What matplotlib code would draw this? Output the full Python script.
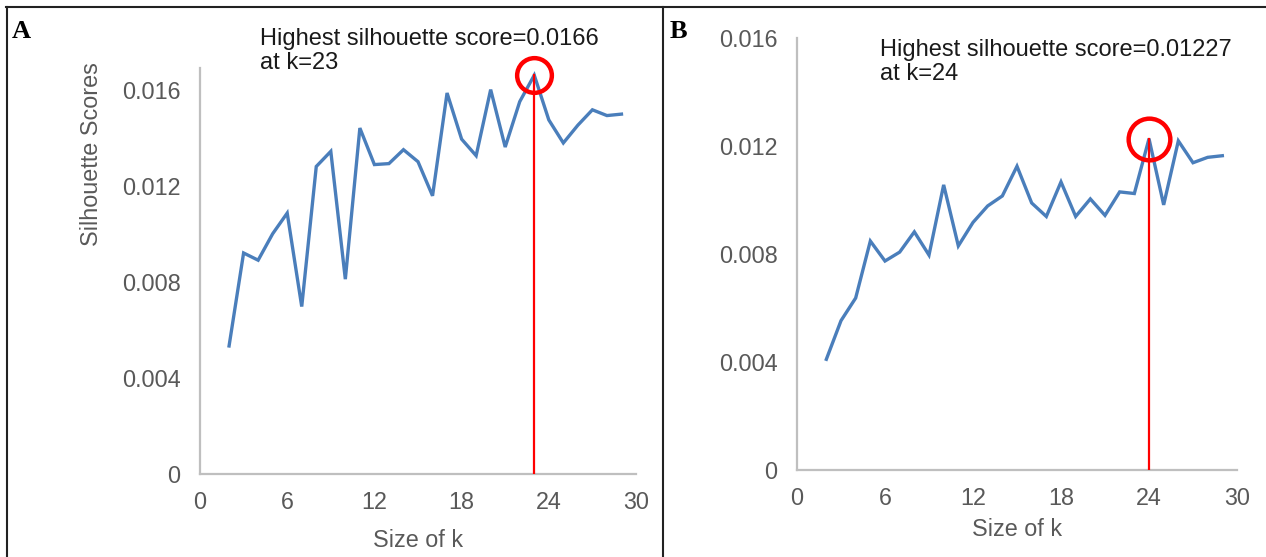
import matplotlib

matplotlib.use("Agg")
import matplotlib.pyplot as plt  # noqa: E402
from matplotlib.lines import Line2D  # noqa: E402

# --- data ------------------------------------------------------------------
k_values = list(range(2, 30))

scores_a = [0.00533, 0.00920, 0.00890, 0.01000, 0.01086, 0.00697, 0.01280,
            0.01343, 0.00811, 0.01440, 0.01288, 0.01292, 0.01350, 0.01300,
            0.01158, 0.01586, 0.01394, 0.01325, 0.01600, 0.01361, 0.01550,
            0.01660, 0.01474, 0.01378, 0.01452, 0.01516, 0.01492, 0.01498]

scores_b = [0.00410, 0.00553, 0.00637, 0.00848, 0.00774, 0.00807, 0.00882,
            0.00796, 0.01056, 0.00830, 0.00917, 0.00978, 0.01015, 0.01125,
            0.00989, 0.00939, 0.01067, 0.00939, 0.01004, 0.00943, 0.01030,
            0.01024, 0.01227, 0.00982, 0.01219, 0.01138, 0.01158, 0.01164]

best_k_a, best_a = 23, 0.0166
best_k_b, best_b = 24, 0.01227

x_ticks = [0, 6, 12, 18, 24, 30]
y_ticks = [0, 0.004, 0.008, 0.012, 0.016]
y_tick_labels = ["0", "0.004", "0.008", "0.012", "0.016"]

# --- style -------------------------------------------------------------------
BLUE = "#4a7ebb"
RED = "#ff0000"
AXIS = "#bfbfbf"
LABEL = "#595959"
W, H = 1266, 557
FS = 16.8

plt.rcParams["font.family"] = ["Liberation Sans", "DejaVu Sans"]

fig = plt.figure(figsize=(W / 100, H / 100), dpi=100)
fig.patch.set_facecolor("white")


def px_box(x0, y_top, x1, y_bot):
    return [x0 / W, 1 - y_bot / H, (x1 - x0) / W, (y_bot - y_top) / H]


def style_axes(ax, ymax):
    ax.set_xlim(0, 30)
    ax.set_ylim(0, ymax)
    ax.set_xticks(x_ticks)
    ax.set_yticks(y_ticks)
    ax.set_yticklabels(y_tick_labels)
    for s in ("top", "right"):
        ax.spines[s].set_visible(False)
    for s in ("left", "bottom"):
        ax.spines[s].set_color(AXIS)
        ax.spines[s].set_linewidth(1.6)
    ax.tick_params(length=0, labelsize=FS, labelcolor=LABEL)
    ax.tick_params(axis="y", pad=14)
    ax.tick_params(axis="x", pad=12)
    ax.set_facecolor("none")


def panel(ax, ks, ys, bk, bv, ms):
    ax.plot(ks, ys, "-", color=BLUE, lw=2.4, solid_joinstyle="miter", zorder=3)
    ax.plot([bk, bk], [0, bv], color=RED, lw=1.6, zorder=4)
    ax.plot([bk], [bv], "o", ms=ms, mfc="none", mec=RED, mew=3.2,
            clip_on=False, zorder=5)


# panel A
ax1 = fig.add_axes(px_box(200, 68, 636, 474))
style_axes(ax1, 0.0169)
panel(ax1, k_values, scores_a, best_k_a, best_a, 25)
ax1.set_xlabel("Size of k", fontsize=FS, color=LABEL, labelpad=11)
fig.text(92 / W, 1 - 154 / H, "Silhouette Scores", rotation=90, fontsize=FS,
         color=LABEL, ha="center", va="center")
fig.text(260 / W, 1 - 28 / H, "Highest silhouette score=0.0166\nat k=23",
         fontsize=17, ha="left", va="top", linespacing=1.12, color="#1a1a1a")

# panel B
ax2 = fig.add_axes(px_box(797, 38, 1237, 470))
style_axes(ax2, 0.016)
panel(ax2, k_values, scores_b, best_k_b, best_b, 30)
ax2.set_xlabel("Size of k", fontsize=FS, color=LABEL, labelpad=6)
fig.text(880 / W, 1 - 39 / H, "Highest silhouette score=0.01227\nat k=24",
         fontsize=17, ha="left", va="top", linespacing=1.12, color="#1a1a1a")

# panel letters
for x, s in ((12, "A"), (670, "B")):
    fig.text(x / W, 1 - 32 / H, s, fontsize=19, fontweight="bold",
             family=["Liberation Serif", "DejaVu Serif"], ha="left", va="center")

# black frame lines
frame = dict(color="#222222", lw=1.5, transform=fig.transFigure)
fig.add_artist(Line2D([6 / W, 1], [1 - 7 / H, 1 - 7 / H], **frame))
fig.add_artist(Line2D([7 / W, 7 / W], [0, 1 - 7 / H], **frame))
fig.add_artist(Line2D([663 / W, 663 / W], [0, 1 - 7 / H], **frame))

fig.savefig("out.png", dpi=100)
